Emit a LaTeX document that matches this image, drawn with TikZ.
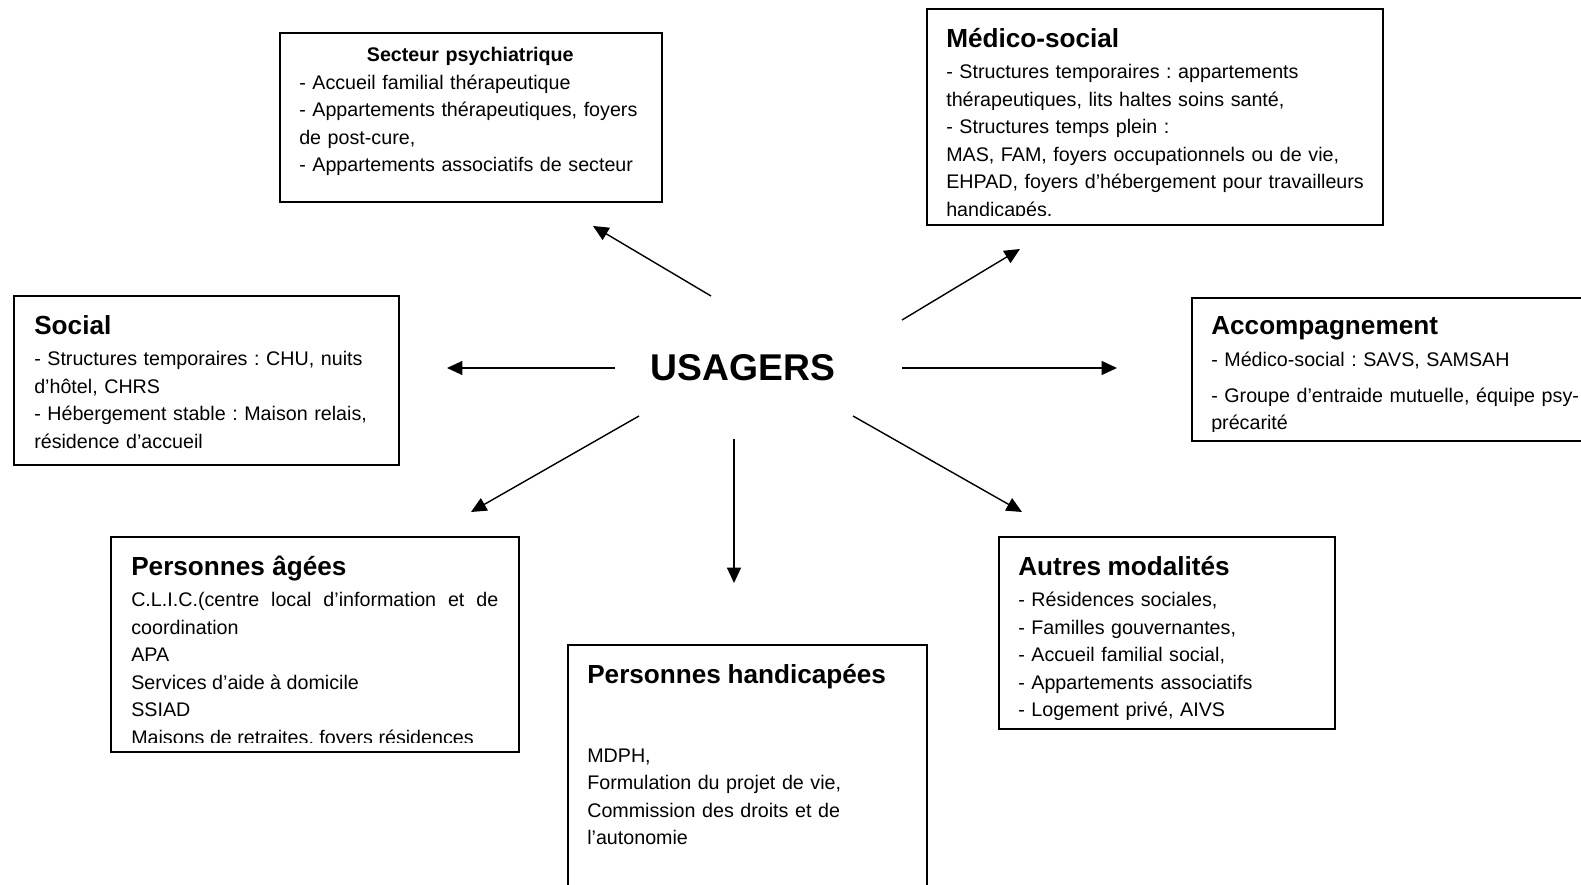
\documentclass[tikz,border=0pt]{standalone}
\usepackage{fontspec}
\setmainfont{Liberation Sans}
\usetikzlibrary{arrows.meta,calc,positioning}
\newcommand{\px}{0.025cm}
\newcommand{\corps}{\fontsize{14}{19.5}\selectfont}
\newcommand{\titre}{\fontsize{18.6}{19.5}\selectfont\bfseries}
\frenchspacing

\begin{document}
\begin{tikzpicture}[x=0.025cm,y=-0.025cm,>={Triangle[length=11pt,width=10pt]}]
  \tikzset{
    cadre/.style={draw,line width=1.3pt,rectangle,anchor=north west,inner sep=0pt},
    texte/.style={anchor=base west,inner sep=0pt,align=left,font=\corps},
    fleche/.style={->,line width=1pt}
  }
  \useasboundingbox (0,0) rectangle (1581,885);

  \node[font=\fontsize{26.5}{30}\selectfont\bfseries,anchor=base] (usagers) at (743,381) {USAGERS};

  % Secteur psychiatrique
  \node[cadre,minimum width=382*\px,minimum height=169*\px] (psy) at (279,32) {};
  \node[texte,text width=342*\px] (psy-t) at (299,62) {\makebox[\linewidth][c]{\bfseries Secteur psychiatrique}\\
    - Accueil familial thérapeutique\\
    - Appartements thérapeutiques, foyers\\
    de post-cure,\\
    - Appartements associatifs de secteur};

  % Medico-social
  \node[cadre,minimum width=456*\px,minimum height=216*\px] (medsoc) at (926,8) {};
  \begin{scope}
    \clip (medsoc.north west) rectangle ($(medsoc.south east)+(0,-10)$);
    \node[texte,text width=420*\px] (medsoc-t) at (946,47.5) {{\titre Médico-social}\\[2.9pt]
      - Structures temporaires : appartements\\
      thérapeutiques, lits haltes soins santé,\\
      - Structures temps plein :\\
      MAS, FAM, foyers occupationnels ou de vie,\\
      EHPAD, foyers d’hébergement pour travailleurs\\
      handicapés.};
  \end{scope}

  % Social
  \node[cadre,minimum width=385*\px,minimum height=169*\px] (social) at (13,295) {};
  \node[texte,text width=350*\px] (social-t) at (34,334.5) {{\titre Social}\\[2.9pt]
    - Structures temporaires : CHU, nuits\\
    d’hôtel, CHRS\\
    - Hébergement stable : Maison relais,\\
    résidence d’accueil};

  % Accompagnement
  \node[cadre,minimum width=500*\px,minimum height=143*\px] (accomp) at (1191,297) {};
  \begin{scope}
    \clip (accomp.north west) rectangle ($(accomp.south east)+(0,-10)$);
    \node[texte,text width=390*\px] (accomp-t) at (1211,335) {{\titre Accompagnement}\\[2.9pt]
      - Médico-social : SAVS, SAMSAH\\[6.1pt]
      - Groupe d’entraide mutuelle, équipe psy-\\
      précarité};
  \end{scope}

  % Personnes agees
  \node[cadre,minimum width=408*\px,minimum height=215*\px] (agees) at (110,536) {};
  \begin{scope}
    \clip (agees.north west) rectangle ($(agees.south east)+(0,-10)$);
    \node[texte,align=justify,text width=367*\px] (agees-t) at (131,575.5) {{\titre Personnes âgées}\\[2.9pt]
      C.L.I.C.(centre local d’information et de\linebreak
      coordination\\
      APA\\
      Services d’aide à domicile\\
      SSIAD\\
      Maisons de retraites, foyers résidences};
  \end{scope}

  % Personnes handicapees
  \node[cadre,minimum width=359*\px,minimum height=300*\px] (handi) at (567,644) {};
  \node[texte,text width=330*\px] (handi-t) at (587,683.5) {{\titre Personnes handicapées}\\[36.6pt]
    MDPH,\\
    Formulation du projet de vie,\\
    Commission des droits et de\\
    l’autonomie};

  % Autres modalites
  \node[cadre,minimum width=336*\px,minimum height=192*\px] (autres) at (998,536) {};
  \begin{scope}
    \clip (autres.north west) rectangle ($(autres.south east)+(0,-10)$);
    \node[texte,text width=305*\px] (autres-t) at (1018,575.5) {{\titre Autres modalités}\\[2.9pt]
      - Résidences sociales,\\
      - Familles gouvernantes,\\
      - Accueil familial social,\\
      - Appartements associatifs\\
      - Logement privé, AIVS};
  \end{scope}

  % arrows
  \coordinate (u-psy) at (711,296);    \coordinate (t-psy) at (593,226);
  \coordinate (u-med) at (902,320);    \coordinate (t-med) at (1020,249);
  \coordinate (u-soc) at (615,368);    \coordinate (t-soc) at (447,368);
  \coordinate (u-acc) at (902,368);    \coordinate (t-acc) at (1117,368);
  \coordinate (u-age) at (639,416);    \coordinate (t-age) at (471,512);
  \coordinate (u-han) at (734,439);    \coordinate (t-han) at (734,583);
  \coordinate (u-aut) at (853,416);    \coordinate (t-aut) at (1022,512);

  \draw[fleche] (u-psy) -- (t-psy);
  \draw[fleche] (u-med) -- (t-med);
  \draw[fleche] (u-soc) -- (t-soc);
  \draw[fleche] (u-acc) -- (t-acc);
  \draw[fleche] (u-age) -- (t-age);
  \draw[fleche] (u-han) -- (t-han);
  \draw[fleche] (u-aut) -- (t-aut);
\end{tikzpicture}
\end{document}
